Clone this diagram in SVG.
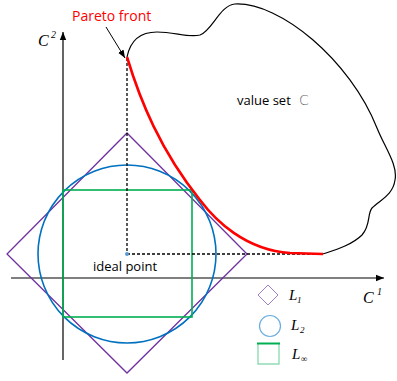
<svg xmlns="http://www.w3.org/2000/svg" width="397" height="381" viewBox="0 0 397 381">
<defs>
<style>
.ax{stroke:#000;stroke-width:1.2;fill:none}
.dash{stroke:#000;stroke-width:1.3;stroke-dasharray:3,2;fill:none}
.math{font-family:"Liberation Serif",serif;font-style:italic;fill:#000}
.sans{font-family:"Open Sans","Liberation Sans",sans-serif;fill:#000}
</style>
<marker id="ah" viewBox="0 0 10 10" refX="10" refY="5" markerWidth="8" markerHeight="8" markerUnits="userSpaceOnUse" orient="auto"><path d="M0,1 L10,5 L0,9 z" fill="#000"/></marker>
</defs>
<rect width="397" height="381" fill="#fff"/>
<g id="axes">
<line class="ax" x1="63" y1="360" x2="63" y2="32" marker-end="url(#ah)"/>
<line class="ax" x1="11" y1="278" x2="384" y2="278" marker-end="url(#ah)"/>
<text class="math" x="38" y="46" font-size="16">C</text>
<text class="math" x="51" y="38" font-size="10">2</text>
<text class="math" x="363" y="303" font-size="16">C</text>
<text class="math" x="377" y="295" font-size="10">1</text>
</g>
<g id="value-set">
<path d="M127,57 C130,42 138,32 157,32 C175,32 188,38 200,35 C212,31 220,5 235,4 C280,2 350,60 377,128 C385,148 398,165 395,180 C393,195 380,200 372,208 C367,214 371,225 362,235 C352,245 335,250 323,254" fill="none" stroke="#000" stroke-width="1.2"/>
<text class="sans" x="237" y="105" font-size="13">value set</text>
<text x="299" y="105" font-size="14" fill="#666" font-family="'DejaVu Sans',sans-serif" font-weight="300">C</text>
</g>
<g id="norms">
<polygon points="127,133 247,254 127,373 7,254" fill="none" stroke="#7030a0" stroke-width="1.3"/>
<circle cx="127" cy="254" r="89" fill="none" stroke="#0070c0" stroke-width="1.6"/>
<rect x="63" y="190" width="129" height="127" fill="none" stroke="#00b050" stroke-width="1.6"/>
</g>
<g id="connectors">
<line class="dash" x1="127" y1="58" x2="127" y2="254"/>
<line class="dash" x1="127" y1="254" x2="322" y2="254"/>
<line x1="106" y1="27" x2="125" y2="58" stroke="#000" stroke-width="1" marker-end="url(#ah)"/>
</g>
<g id="pareto-front">
<path d="M127,57 C140,100 160,150 200,200 C215,220 245,250 290,253 L323,254" fill="none" stroke="#ff0000" stroke-width="2.6"/>
<text x="72" y="21" font-size="14" fill="#ff0000" font-family="'Open Sans','Liberation Sans',sans-serif">Pareto front</text>
</g>
<g id="ideal-point">
<circle cx="127" cy="254" r="2" fill="#5b9bd5"/>
<text class="sans" x="93" y="271" font-size="13">ideal point</text>
</g>
<g id="legend">
<polygon points="268,285 278,295 268,305 258,295" fill="none" stroke="#a07fd0" stroke-width="1"/>
<text class="math" x="289" y="300" font-size="15">L</text>
<text class="math" x="297" y="303" font-size="9">1</text>
<circle cx="270" cy="326" r="10.5" fill="none" stroke="#6aaee0" stroke-width="1.2"/>
<text class="math" x="291" y="330" font-size="15">L</text>
<text class="math" x="300" y="333" font-size="9">2</text>
<path d="M258,344 L258,364 L279,364 L279,344" fill="none" stroke="#90dcb5" stroke-width="1.4"/>
<line x1="257" y1="343.5" x2="280" y2="343.5" stroke="#00b050" stroke-width="2"/>
<text class="math" x="292" y="359" font-size="15">L</text>
<text class="math" x="301" y="362" font-size="9">∞</text>
</g>
</svg>
